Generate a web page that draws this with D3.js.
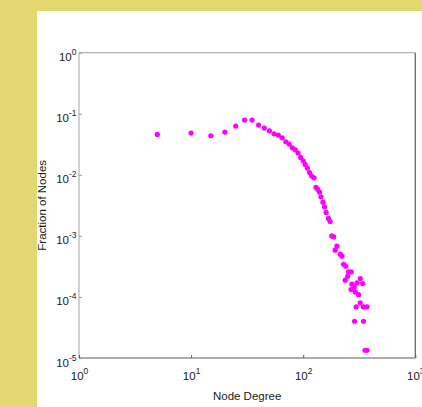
<!DOCTYPE html>
<html>
<head>
<meta charset="utf-8">
<script src="https://cdn.jsdelivr.net/npm/d3@7"></script>
<style>
  html, body { margin: 0; padding: 0; background: #e2d770; }
  svg { display: block; }
  text { font-family: "Liberation Sans", Arial, Helvetica, sans-serif; fill: #1a1a1a; }
</style>
</head>
<body>
<svg id="chart" width="422" height="407"></svg>
<script>
// Degree distribution: node degree vs. fraction of nodes with that degree
const degrees = [
  5, 10, 15, 20, 25, 30, 35, 40, 45, 50,
  55, 60, 65, 70, 75, 80, 85, 90, 95, 100,
  104, 109, 114, 119, 125, 130, 135, 140, 144, 150,
  155, 160, 168, 174, 180, 187, 193, 200, 214, 222,
  229, 240, 254, 268, 249, 237, 323, 302, 339, 272,
  285, 267, 291, 312, 323, 297, 345, 371, 287, 345,
  356, 371
];
const fractions = [
  0.0459, 0.0483, 0.0436, 0.0501, 0.0629, 0.0788, 0.0788, 0.0653, 0.0583, 0.0526,
  0.0470, 0.0448, 0.0404, 0.0348, 0.0319, 0.0277, 0.0257, 0.0227, 0.0193, 0.0170,
  0.0148, 0.0129, 0.0109, 0.00953, 0.00893, 0.00621, 0.00576, 0.00520, 0.00436, 0.00357,
  0.00299, 0.00242, 0.00193, 0.00172, 0.00100, 0.000964, 0.000583, 0.000678, 0.000501, 0.000465,
  0.000343, 0.000318, 0.000257, 0.000257, 0.000218, 0.000188, 0.000200, 0.000170, 0.000166, 0.000162,
  0.000146, 0.000132, 0.000121, 0.000109, 0.0000798, 0.0000686, 0.0000686, 0.0000686, 0.0000400, 0.0000400,
  0.0000134, 0.0000134
];
const xTickExponents = [0, 1, 2, 3];
const yTickExponents = [0, -1, -2, -3, -4, -5];
const xLabel = "Node Degree";
const yLabel = "Fraction of Nodes";

const svg = d3.select("#chart");

// white figure panel inside the coloured frame
svg.append("rect")
  .attr("x", 37).attr("y", 11)
  .attr("width", 422 - 37).attr("height", 407 - 11)
  .attr("fill", "#ffffff");

const plotL = 79, plotR = 415.3, plotT = 52.7, plotB = 358;

const x = d3.scaleLog().domain([1, 1000]).range([plotL, plotR]);
const y = d3.scaleLog().domain([1e-5, 1]).range([plotB, plotT]);

// axis box: light top/left edges, darker bottom/right edges
svg.append("line").attr("x1", plotL).attr("x2", plotR).attr("y1", plotT).attr("y2", plotT)
  .attr("stroke", "#b2b2b2").attr("stroke-width", 1.2);
svg.append("line").attr("x1", plotL).attr("x2", plotL).attr("y1", plotT).attr("y2", plotB)
  .attr("stroke", "#b2b2b2").attr("stroke-width", 1.2);
svg.append("line").attr("x1", plotL).attr("x2", plotR).attr("y1", plotB).attr("y2", plotB)
  .attr("stroke", "#5e5e5e").attr("stroke-width", 1.2);
svg.append("line").attr("x1", plotR).attr("x2", plotR).attr("y1", plotT).attr("y2", plotB)
  .attr("stroke", "#5e5e5e").attr("stroke-width", 1.2);

// x axis: inward ticks, power-of-ten labels
const xAxis = d3.axisBottom(x)
  .tickValues(xTickExponents.map(e => Math.pow(10, e)))
  .tickSizeInner(-3).tickSizeOuter(0)
  .tickFormat("");
const gx = svg.append("g").attr("transform", `translate(0,${plotB})`).call(xAxis);
gx.select(".domain").remove();
gx.selectAll(".tick line").attr("stroke", "#5e5e5e");
gx.selectAll(".tick text").remove();
gx.selectAll(".tick").each(function(d) {
  const t = d3.select(this).append("text")
    .attr("y", 21.5).attr("text-anchor", "middle")
    .attr("font-size", 11.5).attr("fill", "#1a1a1a");
  t.append("tspan").text("10");
  t.append("tspan").attr("dy", -6).attr("font-size", 8.5).text(Math.round(Math.log10(d)));
});

// y axis
const yAxis = d3.axisLeft(y)
  .tickValues(yTickExponents.map(e => Math.pow(10, e)))
  .tickSizeInner(-3).tickSizeOuter(0)
  .tickFormat("");
const gy = svg.append("g").attr("transform", `translate(${plotL},0)`).call(yAxis);
gy.select(".domain").remove();
gy.selectAll(".tick line").attr("stroke", "#9a9a9a");
gy.selectAll(".tick text").remove();
gy.selectAll(".tick").each(function(d) {
  const t = d3.select(this).append("text")
    .attr("x", -2.5).attr("y", 8).attr("text-anchor", "end")
    .attr("font-size", 11.5).attr("fill", "#1a1a1a");
  t.append("tspan").text("10");
  t.append("tspan").attr("dy", -6).attr("font-size", 8.5).text(Math.round(Math.log10(d)));
});

// axis titles
svg.append("text")
  .attr("x", (plotL + plotR) / 2).attr("y", 400)
  .attr("text-anchor", "middle").attr("font-size", 11.5)
  .text(xLabel);
svg.append("text")
  .attr("transform", `translate(46,${(plotT + plotB) / 2}) rotate(-90)`)
  .attr("text-anchor", "middle").attr("font-size", 11.5)
  .text(yLabel);

// data points
svg.append("g")
  .selectAll("circle")
  .data(degrees.map((d, i) => [d, fractions[i]]))
  .join("circle")
  .attr("cx", d => x(d[0]))
  .attr("cy", d => y(d[1]))
  .attr("r", 2.6)
  .attr("fill", "#ff00ff");
</script>
</body>
</html>
